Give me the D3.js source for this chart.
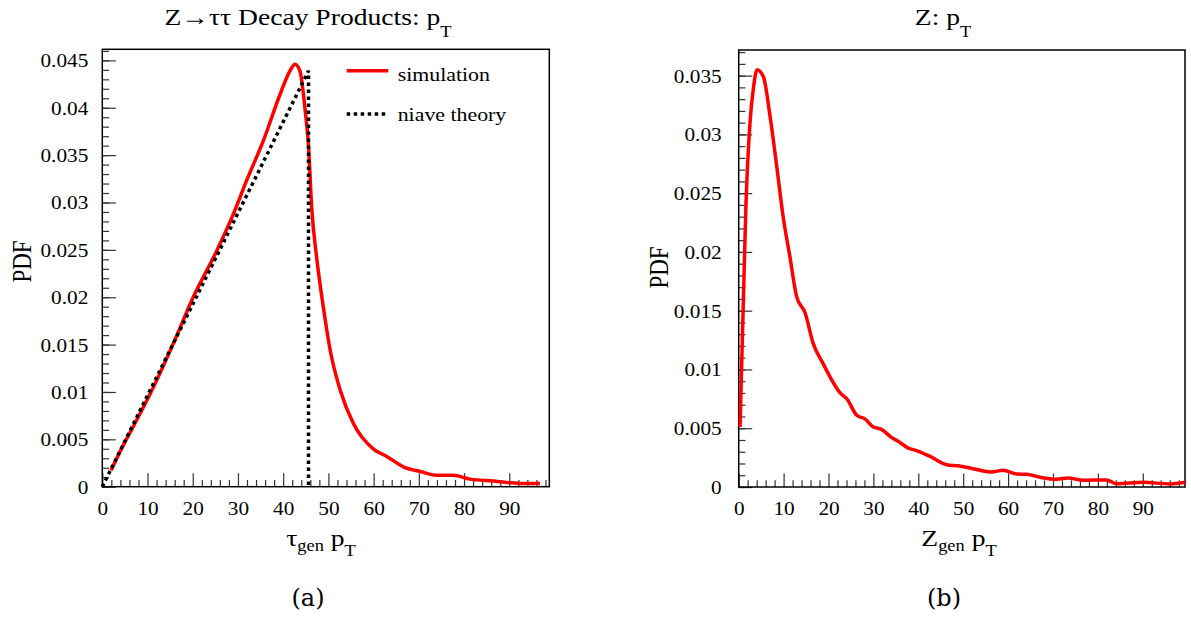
<!DOCTYPE html>
<html>
<head>
<meta charset="utf-8">
<script src="https://d3js.org/d3.v7.min.js"></script>
<style>
  html, body { margin: 0; padding: 0; background: #fff; }
  svg { display: block; }
  svg text { font-family: "Liberation Serif", serif; }
  svg text.cap { font-family: "Liberation Serif", serif; }
</style>
</head>
<body>
<svg id="chart" width="1191" height="617"></svg>
<script>
// ---------------- data ----------------
// (a) tau decay products pT: simulation curve
const simX = [1.9, 5.0, 6.9, 11.3, 15.7, 20.1, 25.3, 29.0, 31.9, 35.6, 39.3, 41.5, 42.6, 43.7, 44.8, 45.6, 46.3, 47.4, 48.9, 50.4, 52.6, 55.5, 59.9, 62.9, 66.6, 70.3, 73.9, 77.6, 81.3, 86.5, 92.4, 96.8];
const simY = [0.0017, 0.0047, 0.0064, 0.0105, 0.0151, 0.0200, 0.0249, 0.0288, 0.0323, 0.0365, 0.0414, 0.0439, 0.0446, 0.0439, 0.0400, 0.0360, 0.0295, 0.0242, 0.0189, 0.0144, 0.0102, 0.0067, 0.0040, 0.0032, 0.0021, 0.0016, 0.0012, 0.0012, 0.0008, 0.0006, 0.00035, 0.00035];
// (a) naive theory
const theoryX = [0, 45.6, 45.6];
const theoryY = [0, 0.0439, 0];
// (b) Z pT
const zX = [0.3, 1.0, 1.6, 2.5, 3.3, 4.1, 5.5, 7.0, 8.5, 9.9, 11.4, 12.9, 14.8, 16.6, 18.8, 20.3, 22.6, 24.1, 26.3, 28.1, 30.0, 31.8, 34.1, 35.5, 37.8, 39.6, 42.6, 46.3, 48.9, 52.2, 56.3, 58.9, 61.9, 64.1, 67.1, 70.8, 73.4, 76.7, 81.9, 84.1, 90.1, 96.1, 99.4];
const zY = [0.0051, 0.0153, 0.0238, 0.0309, 0.0340, 0.0355, 0.0349, 0.0315, 0.0272, 0.0230, 0.0196, 0.0162, 0.0148, 0.0122, 0.0105, 0.0094, 0.0080, 0.0075, 0.0061, 0.0058, 0.0051, 0.0049, 0.0042, 0.0039, 0.0033, 0.0031, 0.0026, 0.0019, 0.0018, 0.00156, 0.00128, 0.00142, 0.0011, 0.00108, 0.00083, 0.00066, 0.00077, 0.00057, 0.0006, 0.00028, 0.0004, 0.00026, 0.0004];

// ticks
const xMajor = [0, 10, 20, 30, 40, 50, 60, 70, 80, 90];
const xMajorLabels = ["0", "10", "20", "30", "40", "50", "60", "70", "80", "90"];
const yMajorA = [0, 0.005, 0.01, 0.015, 0.02, 0.025, 0.03, 0.035, 0.04, 0.045];
const yMajorLabelsA = ["0", "0.005", "0.01", "0.015", "0.02", "0.025", "0.03", "0.035", "0.04", "0.045"];
const yMajorB = [0, 0.005, 0.01, 0.015, 0.02, 0.025, 0.03, 0.035];
const yMajorLabelsB = ["0", "0.005", "0.01", "0.015", "0.02", "0.025", "0.03", "0.035"];

const legendLabels = ["simulation", "niave theory"];

// ---------------- drawing ----------------
const SX = 1.15;
const FONT = "Liberation Serif";
const svg = d3.select("#chart");

function range(a, b, step) { const r = []; for (let v = a; v <= b + 1e-9; v += step) r.push(+v.toFixed(6)); return r; }

function panel(cfg) {
  const g = svg.append("g");
  const x = d3.scaleLinear().domain(cfg.xDom).range(cfg.xRange);
  const y = d3.scaleLinear().domain(cfg.yDom).range(cfg.yRange);

  const xMinor = range(0, cfg.xDom[1], 2).filter(v => v % 10 !== 0);
  const yMinor = range(0, cfg.yDom[1], 0.001);
  g.append("g").attr("transform", `translate(0,${cfg.yRange[0]})`)
    .call(d3.axisBottom(x).tickValues(xMinor).tickSize(-6.7).tickFormat(""))
    .call(s => s.select(".domain").remove())
    .selectAll("line").attr("stroke", "#333").attr("stroke-width", 1.2);
  g.append("g").attr("transform", `translate(${cfg.xRange[0]},0)`)
    .call(d3.axisLeft(y).tickValues(yMinor).tickSize(-6.7).tickFormat(""))
    .call(s => s.select(".domain").remove())
    .selectAll("line").attr("stroke", "#333").attr("stroke-width", 1.2);

  const xa = g.append("g").attr("transform", `translate(0,${cfg.yRange[0]})`)
    .call(d3.axisBottom(x).tickValues(xMajor).tickSize(-13.5).tickPadding(14)
      .tickFormat((d, i) => xMajorLabels[i]));
  xa.attr("font-family", null).attr("font-size", null);
  xa.select(".domain").remove();
  xa.selectAll("line").attr("stroke", "#333").attr("stroke-width", 1.2);
  xa.selectAll("text").style("font-family", FONT).style("font-size", "18.5px").attr("fill", "#000")
    .attr("y", 28.5).attr("dy", null).attr("transform", `scale(${SX},1)`);

  const ya = g.append("g").attr("transform", `translate(${cfg.xRange[0]},0)`)
    .call(d3.axisLeft(y).tickValues(cfg.yMajor).tickSize(-13.5)
      .tickFormat((d, i) => cfg.yLabels[i]));
  ya.attr("font-family", null).attr("font-size", null);
  ya.select(".domain").remove();
  ya.selectAll("line").attr("stroke", "#333").attr("stroke-width", 1.2);
  ya.selectAll("text").style("font-family", FONT).style("font-size", "18.5px").attr("fill", "#000")
    .attr("x", -cfg.yPad / SX).attr("dy", null).attr("y", 6.5).attr("transform", `scale(${SX},1)`);

  g.append("rect")
    .attr("x", cfg.xRange[0]).attr("y", cfg.yRange[1])
    .attr("width", cfg.xRange[1] - cfg.xRange[0]).attr("height", cfg.yRange[0] - cfg.yRange[1])
    .attr("fill", "none").attr("stroke", "#000").attr("stroke-width", 1.5);

  return { g, x, y };
}

function stext(parent, x, y, parts, anchor, rotate) {
  const t = parent.append("text")
    .attr("transform", `translate(${x},${y}) scale(${SX},1)` + (rotate ? ` rotate(${rotate})` : ""))
    .attr("text-anchor", anchor || "start")
    .style("font-family", FONT).attr("fill", "#000");
  parts.forEach(p => {
    const ts = t.append("tspan").text(p.t).style("font-size", p.s + "px");
    if (p.dy) ts.attr("dy", p.dy);
  });
  return t;
}

const A = panel({ xDom: [0, 98.85], xRange: [102.3, 549.3], yDom: [0, 0.04617], yRange: [486.7, 49.3],
  yMajor: yMajorA, yLabels: yMajorLabelsA, yPad: 14 });
const B = panel({ xDom: [0, 99.4], xRange: [738.7, 1185], yDom: [0, 0.03718], yRange: [487, 50],
  yMajor: yMajorB, yLabels: yMajorLabelsB, yPad: 17 });

const lineA = d3.line().x((d, i) => A.x(simX[i])).y((d, i) => A.y(simY[i])).curve(d3.curveMonotoneX);
A.g.append("path").datum(simX).attr("d", lineA)
  .attr("fill", "none").attr("stroke", "#ff0000").attr("stroke-width", 3.5).attr("stroke-linejoin", "round");

const lineT = d3.line().x((d, i) => A.x(theoryX[i])).y((d, i) => A.y(theoryY[i]));
A.g.append("path").datum(theoryX).attr("d", lineT)
  .attr("fill", "none").attr("stroke", "#000").attr("stroke-width", 3.5).attr("stroke-dasharray", "3.5,3.5");

const lineB = d3.line().x((d, i) => B.x(zX[i])).y((d, i) => B.y(zY[i])).curve(d3.curveMonotoneX);
B.g.append("path").datum(zX).attr("d", lineB)
  .attr("fill", "none").attr("stroke", "#ff0000").attr("stroke-width", 3.5).attr("stroke-linejoin", "round");

const leg = svg.append("g");
leg.append("line").attr("x1", 346.7).attr("x2", 388.3).attr("y1", 70.7).attr("y2", 70.7)
  .attr("stroke", "#ff0000").attr("stroke-width", 3.5);
leg.append("line").attr("x1", 346.7).attr("x2", 388.3).attr("y1", 114).attr("y2", 114)
  .attr("stroke", "#000").attr("stroke-width", 3.5).attr("stroke-dasharray", "3.5,3.5");
stext(leg, 397.7, 80.5, [{ t: legendLabels[0], s: 19 }]);
stext(leg, 397.7, 121, [{ t: legendLabels[1], s: 19 }]);

stext(svg, 308, 25, [{ t: "Z\u2192\u03C4\u03C4 Decay Products: p", s: 24 }, { t: "T", s: 16, dy: 12 }], "middle");
stext(svg, 943, 25, [{ t: "Z: p", s: 24 }, { t: "T", s: 16, dy: 12 }], "middle");

stext(svg, 321, 546, [{ t: "\u03C4", s: 24 }, { t: "gen", s: 16, dy: 5 }, { t: " p", s: 24, dy: -5 }, { t: "T", s: 16, dy: 10 }], "middle");
stext(svg, 959, 546, [{ t: "Z", s: 24 }, { t: "gen", s: 16, dy: 5 }, { t: " p", s: 24, dy: -5 }, { t: "T", s: 16, dy: 10 }], "middle");
stext(svg, 30.5, 261.5, [{ t: "PDF", s: 23 }], "middle", -90);
stext(svg, 668, 267.5, [{ t: "PDF", s: 23 }], "middle", -90);

svg.append("text").attr("x", 308).attr("y", 606).attr("text-anchor", "middle")
  .style("font-family", "DejaVu Serif").style("font-size", "24px").text("(a)");
svg.append("text").attr("x", 944).attr("y", 606).attr("text-anchor", "middle")
  .style("font-family", "DejaVu Serif").style("font-size", "24px").text("(b)");
</script>
</body>
</html>
